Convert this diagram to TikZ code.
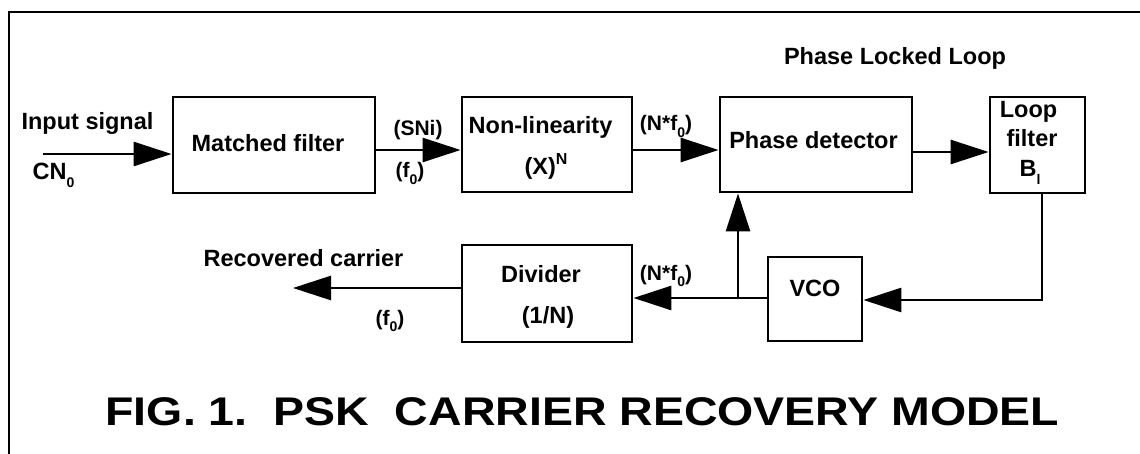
\documentclass[tikz,border=0pt]{standalone}
\usepackage{fontspec}
\setmainfont{Liberation Sans}
\usetikzlibrary{arrows.meta}
\newcommand\lowsub[1]{\raisebox{-0.3em}{\fontsize{14}{14}\selectfont #1}}
\newcommand\highsup[1]{\raisebox{0.45em}{\fontsize{16}{16}\selectfont #1}}
\begin{document}
\begin{tikzpicture}[x=1pt,y=-1pt,
  box/.style={draw, line width=2.8pt, inner sep=0pt},
  txt/.style={font=\fontsize{23.5}{27}\selectfont\bfseries, anchor=base, inner sep=0pt},
  lab/.style={font=\fontsize{21}{25}\selectfont\bfseries, anchor=base, inner sep=0pt},
  conn/.style={line width=2.7pt, -{Triangle[length=38pt,width=24pt]}},
  frame/.style={line width=2.4pt}]
\useasboundingbox (0,0) rectangle (1140,454);
% frame
\coordinate (fr1) at (9,454);
\coordinate (fr2) at (9,12);
\coordinate (fr3) at (1141,12);
\draw[frame] (fr1) -- (fr2) -- (fr3);
% boxes
\node[box, minimum width=202pt, minimum height=96pt] (mf) at (274,145) {};
\node[box, minimum width=170pt, minimum height=95pt] (nl) at (547,144.5) {};
\node[box, minimum width=192pt, minimum height=95pt] (pd) at (816,144.5) {};
\node[box, minimum width=95pt, minimum height=96pt] (lf) at (1037.5,145) {};
\node[box, minimum width=94pt, minimum height=84pt] (vco) at (815,299) {};
\node[box, minimum width=170pt, minimum height=97pt] (div) at (547,293.5) {};
% box texts
\node[txt] (tmf) at (268,152) {Matched filter};
\node[txt] (tnl1) at (540.5,134) {Non-linearity};
\node[txt] (tnl2) at (546,175) {(X)\highsup{N}};
\node[txt] (tpd) at (813.5,149) {Phase detector};
\node[txt] (tlf1) at (1028.5,118) {Loop};
\node[txt] (tlf2) at (1032,147) {filter};
\node[txt] (tlf3) at (1030,177) {B\lowsub{l}};
\node[txt] (tvco) at (815,297) {VCO};
\node[txt] (tdiv1) at (541,283) {Divider};
\node[txt] (tdiv2) at (548,323) {(1/N)};
% free labels
\node[txt] (tin) at (87.5,130) {Input signal};
\node[txt] (tcn) at (53.5,180) {CN\lowsub{0}};
\node[lab] (tsni) at (418,136) {(SNi)};
\node[lab] (tf1) at (410,178) {(f\lowsub{0})};
\node[lab] (tnf1) at (666,131) {(N*f\lowsub{0})};
\node[txt] (tpll) at (895,65) {Phase Locked Loop};
\node[lab] (tnf2) at (666,280) {(N*f\lowsub{0})};
\node[txt] (trc) at (303.5,267) {Recovered carrier};
\node[lab] (tf2) at (390,325) {(f\lowsub{0})};
\node[anchor=base, inner sep=0pt, font=\fontsize{40}{40}\selectfont\bfseries] (title) at (582.5,425)
  {\scalebox{1.162}[1]{FIG. 1.\ \ PSK\ \ CARRIER RECOVERY MODEL}};
% connectors
\coordinate (in) at (43,154);
\coordinate (out) at (293,288);
\coordinate (j) at (738,298);
\draw[conn] (in) -- (in -| mf.west);
\draw[conn] ([yshift=-5pt]mf.east) -- ([yshift=-5.5pt]nl.west);
\draw[conn] ([yshift=-5.5pt]nl.east) -- ([yshift=-5.5pt]pd.west);
\draw[conn] ([yshift=-7.5pt]pd.east) -- ([yshift=-7pt]lf.west);
\draw[conn] ([xshift=4.5pt]lf.south) |- ([yshift=-1pt]vco.east);
\draw[conn] ([yshift=1pt]vco.west) -- ([yshift=-4.5pt]div.east);
\draw[conn] (j) -- (j |- pd.south);
\draw[conn] ([yshift=5.5pt]div.west) -- (out);
\end{tikzpicture}
\end{document}
